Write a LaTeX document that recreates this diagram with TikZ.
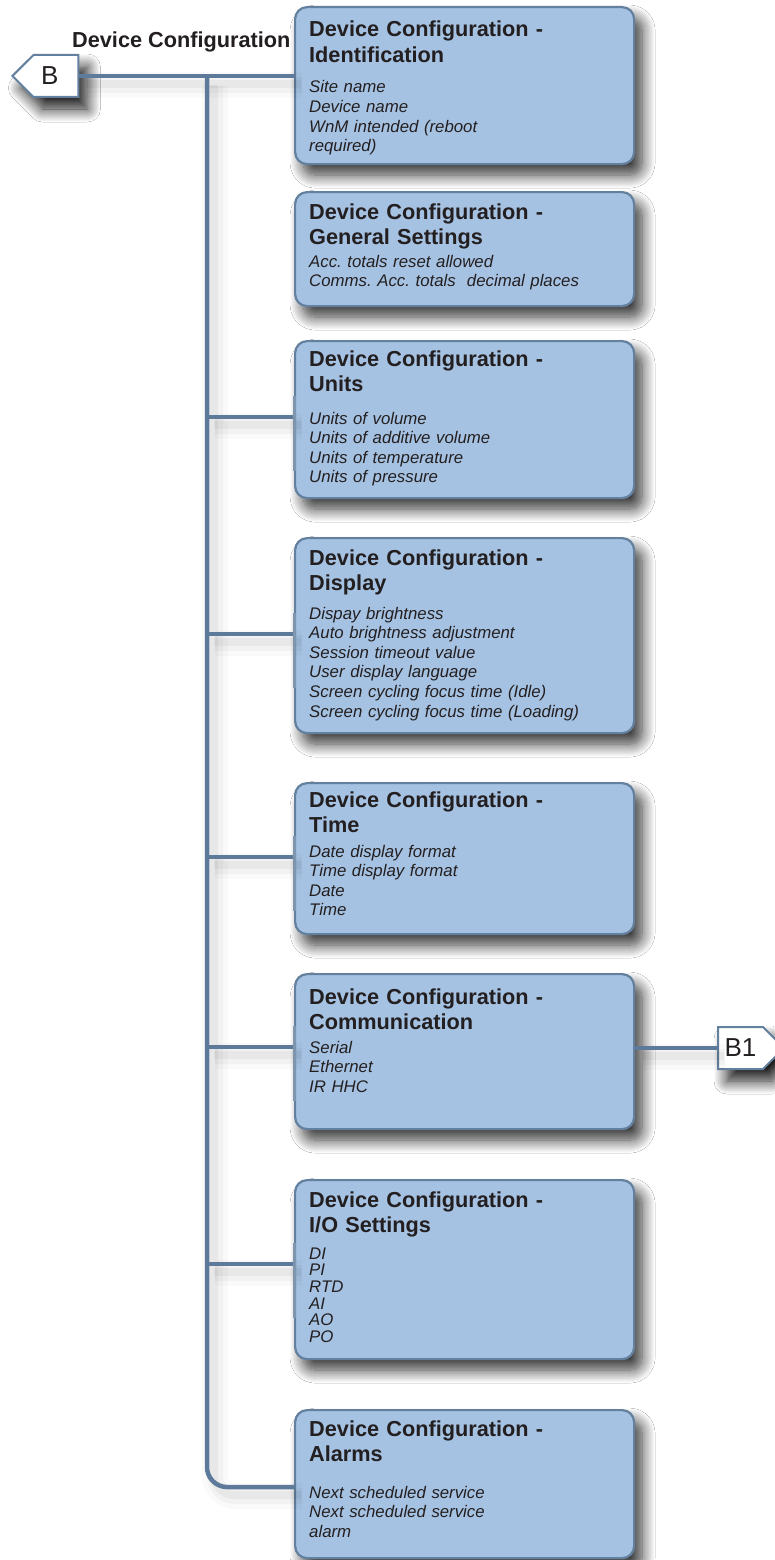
\documentclass[tikz,border=0pt]{standalone}
\usepackage{fontspec}
\setmainfont{Liberation Sans}
\frenchspacing
\usetikzlibrary{shapes.symbols,shadows.blur}

\definecolor{boxfill}{HTML}{A6C2E2}
\definecolor{boxline}{HTML}{64809F}
\definecolor{wireblue}{HTML}{5E7A9B}
\definecolor{inktext}{HTML}{231F20}

\newcommand{\titlefont}{\fontsize{21.7}{25.5}\selectfont\bfseries}
\newcommand{\listfont}{\fontsize{16.8}{19.6}\selectfont\itshape}

\begin{document}
\begin{tikzpicture}[x=1pt, y=-1pt,
    cfgbox/.style={draw=boxline, line width=2.2pt, fill=boxfill, rounded corners=12pt,
      anchor=north west, inner sep=0pt, minimum width=339pt,
      blur shadow={shadow xshift=8pt, shadow yshift=-11pt, shadow blur radius=13pt,
        shadow blur steps=14, shadow opacity=80}},
    cfgtitle/.style={anchor=base west, inner sep=0pt, text width=310pt, font=\titlefont, text=inktext},
    cfglist/.style={anchor=base west, inner sep=0pt, text width=310pt, font=\listfont, text=inktext},
    wire/.style={draw=wireblue, line width=4.5pt,
      preaction={draw=black, draw opacity=0.02, line width=26pt, transform canvas={xshift=8pt, yshift=-9pt}},
      preaction={draw=black, draw opacity=0.03, line width=16pt, transform canvas={xshift=8pt, yshift=-9pt}},
      preaction={draw=black, draw opacity=0.04, line width=8pt, transform canvas={xshift=7pt, yshift=-8pt}}},
    pagetag/.style={signal, draw=boxline, line width=2pt, fill=white, signal pointer angle=90,
      minimum width=66pt, minimum height=42pt, inner sep=0pt, text=inktext,
      font=\fontsize{26}{30}\selectfont,
      blur shadow={shadow xshift=9pt, shadow yshift=-12pt, shadow blur radius=13pt,
        shadow blur steps=14, shadow opacity=90}}]
  \useasboundingbox[fill=white] (0,0) rectangle (774,1560);

  % off-page tags
  \node[pagetag, signal to=west, anchor=west] (tagB) at (11,76) {\hspace*{-12pt}B};
  \node[pagetag, signal to=east, anchor=west] (tagBone) at (717,1048) {B1};
  \node[anchor=base west, inner sep=0pt, font=\titlefont, text=inktext] (cfglabel) at (72,48) {Device Configuration};

  % the eight configuration boxes
  \node[cfgbox, minimum height=157pt] (idbox) at (294,6) {};
  \node[cfgtitle] (idtitle) at (309,37) {Device Configuration -\\Identification};
  \node[cfglist] (iditems) at (309,93) {Site name\\Device name\\WnM intended (reboot\\required)};

  \node[cfgbox, minimum height=114pt] (genbox) at (294,191) {};
  \node[cfgtitle] (gentitle) at (309,219) {Device Configuration -\\General Settings};
  \node[cfglist] (genitems) at (309,267) {Acc. totals reset allowed\\Comms. Acc. totals\ \ decimal places};

  \node[cfgbox, minimum height=157pt] (unitbox) at (294,340) {};
  \node[cfgtitle] (unittitle) at (309,366) {Device Configuration -\\Units};
  \node[cfglist] (unititems) at (309,424) {Units of volume\\Units of additive volume\\Units of temperature\\Units of pressure};

  \node[cfgbox, minimum height=195pt] (dispbox) at (294,537) {};
  \node[cfgtitle] (disptitle) at (309,565) {Device Configuration -\\Display};
  \node[cfglist] (dispitems) at (309,619) {Dispay brightness\\Auto brightness adjustment\\Session timeout value\\User display language\\Screen cycling focus time (Idle)\\Screen cycling focus time (Loading)};

  \node[cfgbox, minimum height=151pt] (timebox) at (294,782) {};
  \node[cfgtitle] (timetitle) at (309,807) {Device Configuration -\\Time};
  \node[cfglist] (timeitems) at (309,857) {Date display format\\Time display format\\Date\\Time};

  \node[cfgbox, minimum height=155pt] (commbox) at (294,973) {};
  \node[cfgtitle] (commtitle) at (309,1004) {Device Configuration -\\Communication};
  \node[cfglist] (commitems) at (309,1053) {Serial\\Ethernet\\IR HHC};

  \node[cfgbox, minimum height=179pt] (iobox) at (294,1179) {};
  \node[cfgtitle] (iotitle) at (309,1207) {Device Configuration -\\I/O Settings};
  \node[cfglist, font=\fontsize{16.8}{16.7}\selectfont\itshape] (ioitems) at (309,1259) {DI\\PI\\RTD\\AI\\AO\\PO};

  \node[cfgbox, minimum height=148pt] (alarmbox) at (294,1409) {};
  \node[cfgtitle] (alarmtitle) at (309,1436) {Device Configuration -\\Alarms};
  \node[cfglist] (alarmitems) at (309,1498) {Next scheduled service\\Next scheduled service\\alarm};

  % connectors
  \draw[wire] (tagB.east) -- (tagB.east -| idbox.west);
  \coordinate (trunktop) at (207,77);
  \coordinate (trunkend) at (alarmbox.west |- 0,1487);
  \draw[wire, rounded corners=20pt] (trunktop) |- (trunkend);
  \foreach \bx/\by in {unitbox/417, dispbox/634, timebox/857, commbox/1047, iobox/1264} {
    \coordinate (j-\bx) at (207,\by);
    \draw[wire] (j-\bx) -- (j-\bx -| \bx.west);
    \draw[wireblue!80, line width=3pt] ([yshift=21pt]j-\bx -| \bx.west) -- ([yshift=-54pt]j-\bx -| \bx.west);
  }
  \draw[wire] (tagBone.west -| commbox.east) -- (tagBone.west);
\end{tikzpicture}
\end{document}
